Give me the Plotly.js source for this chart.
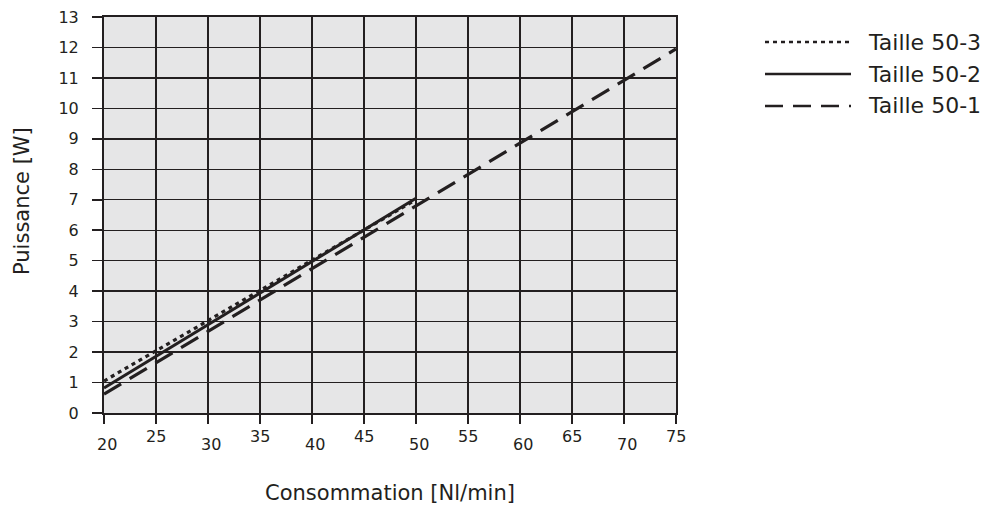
<!DOCTYPE html>
<html>
<head>
<meta charset="utf-8">
<script src="https://cdn.plot.ly/plotly-3.0.1.min.js"></script>
<style>html,body{margin:0;padding:0;background:#fff;}#chart{width:992px;height:507px;}</style>
</head>
<body>
<div id="chart"></div>
<script>
// Data
const xTicks = [20, 25, 30, 35, 40, 45, 50, 55, 60, 65, 70, 75];
const xTickLabels = ["20", "25", "30", "35", "40", "45", "50", "55", "60", "65", "70", "75"];
const yTicks = [0,1,2,3,4,5,6,7,8,9,10,11,12,13];
const xTitle = "Consommation [Nl/min]";
const yTitle = "Puissance [W]";

const seriesNames = ["Taille 50-3", "Taille 50-2", "Taille 50-1"];
const x503 = [20, 50];
const y503 = [1.05, 7.0];
const x502 = [20, 50];
const y502 = [0.82, 7.05];
const x501 = [20, 75];
const y501 = [0.62, 11.95];

const ink = "#231f20";
const fontFam = "'DejaVu Sans', sans-serif";

const traces = [
  {x: x503, y: y503, name: seriesNames[0], mode: "lines", line: {color: ink, width: 3.2, dash: "4px,4px"}, showlegend: false},
  {x: x502, y: y502, name: seriesNames[1], mode: "lines", line: {color: ink, width: 3}, showlegend: false},
  {x: x501, y: y501, name: seriesNames[2], mode: "lines", line: {color: ink, width: 3.2, dash: "20px,10px"}, showlegend: false}
];

// Staggered x tick labels
const annotations = xTicks.map((v, i) => ({
  x: v, xref: "x", y: 0, yref: "paper",
  text: xTickLabels[i], showarrow: false,
  xanchor: "center", yanchor: "top",
  yshift: (i % 2 === 0) ? -20 : -12,
  xshift: (i % 2 === 0) ? 3 : 0,
  font: {family: fontFam, size: 16, color: ink}
}));

// y-axis title (placed as in the reference, slightly above plot centre)
annotations.push({xref: "paper", yref: "paper",
  x: (22 - 104) / 572, y: 1 - (201 - 17) / (413 - 17),
  text: yTitle, textangle: -90, showarrow: false,
  xanchor: "center", yanchor: "middle",
  font: {family: fontFam, size: 21, color: ink}});

// Manual legend (long line samples)
const legendDashPx = ["4px,4px", "solid", "18px,10px"];
const legendYpx = [42, 74, 106];
const shapes = [];
legendYpx.forEach((py, i) => {
  const yp = 1 - (py - 17) / (413 - 17);
  shapes.push({type: "line", xref: "paper", yref: "paper",
    x0: (765 - 104) / 572, x1: (851 - 104) / 572, y0: yp, y1: yp,
    line: {color: ink, width: 2.4, dash: legendDashPx[i]}});
  annotations.push({xref: "paper", yref: "paper", x: (866 - 104) / 572, y: yp,
    text: seriesNames[i], showarrow: false, xanchor: "left", yanchor: "middle",
    font: {family: fontFam, size: 22, color: ink}});
});

const layout = {
  width: 992, height: 507,
  margin: {l: 104, r: 316, t: 17, b: 94, pad: 0},
  paper_bgcolor: "#ffffff",
  plot_bgcolor: "#e6e6e7",
  showlegend: false,
  font: {family: fontFam, color: ink},
  xaxis: {
    range: [20, 75], tickvals: xTicks, showticklabels: false,
    ticks: "outside", ticklen: 9, tickwidth: 1.6, tickcolor: ink,
    showgrid: true, gridcolor: ink, gridwidth: 1.4,
    showline: true, linecolor: ink, linewidth: 2, mirror: true,
    zeroline: false, fixedrange: true,
    title: {text: xTitle, font: {family: fontFam, size: 21, color: ink}, standoff: 62}
  },
  yaxis: {
    range: [0, 13], tickvals: yTicks,
    ticks: "outside", ticklen: 10, tickwidth: 1.6, tickcolor: ink,
    ticklabelstandoff: 10,
    tickfont: {family: fontFam, size: 16, color: ink},
    showgrid: true, gridcolor: ink, gridwidth: 1.4,
    showline: true, linecolor: ink, linewidth: 2, mirror: true,
    zeroline: false, fixedrange: true
  },
  annotations: annotations,
  shapes: shapes
};

Plotly.newPlot("chart", traces, layout, {staticPlot: true, displayModeBar: false});
</script>
</body>
</html>
